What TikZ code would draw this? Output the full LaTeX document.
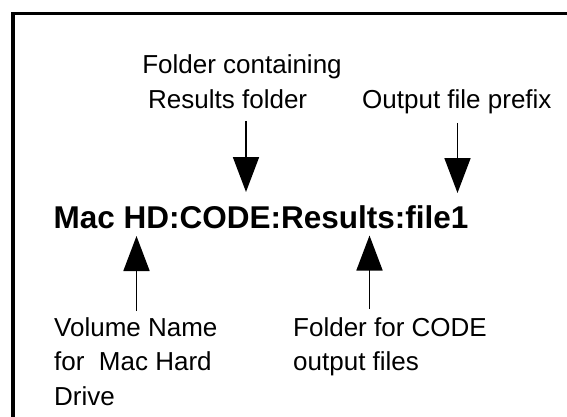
\documentclass[tikz,border=0pt]{standalone}
\usepackage{fontspec}
\setmainfont{Liberation Sans}
\usetikzlibrary{arrows.meta}
\begin{document}
\begin{tikzpicture}[x=1pt,y=-1pt,
  lbl/.style={inner sep=0pt,font=\fontsize{26}{34.5}\selectfont},
  mainlbl/.style={inner sep=0pt,font=\fontsize{31.5}{38}\selectfont\bfseries},
  ptr/.style={line width=1.8pt,-{Triangle[width=26pt,length=35pt]}},
  frame/.style={line width=3.5pt,line cap=rect}]
\useasboundingbox (0,0) rectangle (567,417);
% frame (cropped)
\draw[frame] (13,417) -- (13,13.5) -- (570,13.5);
% labels
\node[lbl,anchor=base] (fc1) at (242,74) {Folder containing};
\node[lbl,anchor=base west] (fc2) at (148,108.5) {Results folder};
\node[lbl,anchor=base west] (ofp) at (362,108.5) {Output file prefix};
\node[mainlbl,anchor=base west] (path) at (53.5,228) {Mac HD:CODE:Results:file1};
\node[lbl,anchor=base west,align=left] (vol) at (54,405) {Volume Name\\for\ \ Mac Hard\\Drive};
\node[lbl,anchor=base west,align=left] (ffc) at (293,370.5) {Folder for CODE\\output files};
% arrow ends
\coordinate (a1s) at (246,121);
\coordinate (a1e) at (246,192);
\coordinate (a2s) at (457.5,123);
\coordinate (a2e) at (457.5,193);
\coordinate (a3s) at (136.5,311);
\coordinate (a3e) at (136.5,236);
\coordinate (a4s) at (369.5,309);
\coordinate (a4e) at (369.5,235.5);
\draw[ptr] (a1s) -- (a1e);
\draw[ptr] (a2s) -- (a2e);
\draw[ptr] (a3s) -- (a3e);
\draw[ptr] (a4s) -- (a4e);
\end{tikzpicture}
\end{document}
